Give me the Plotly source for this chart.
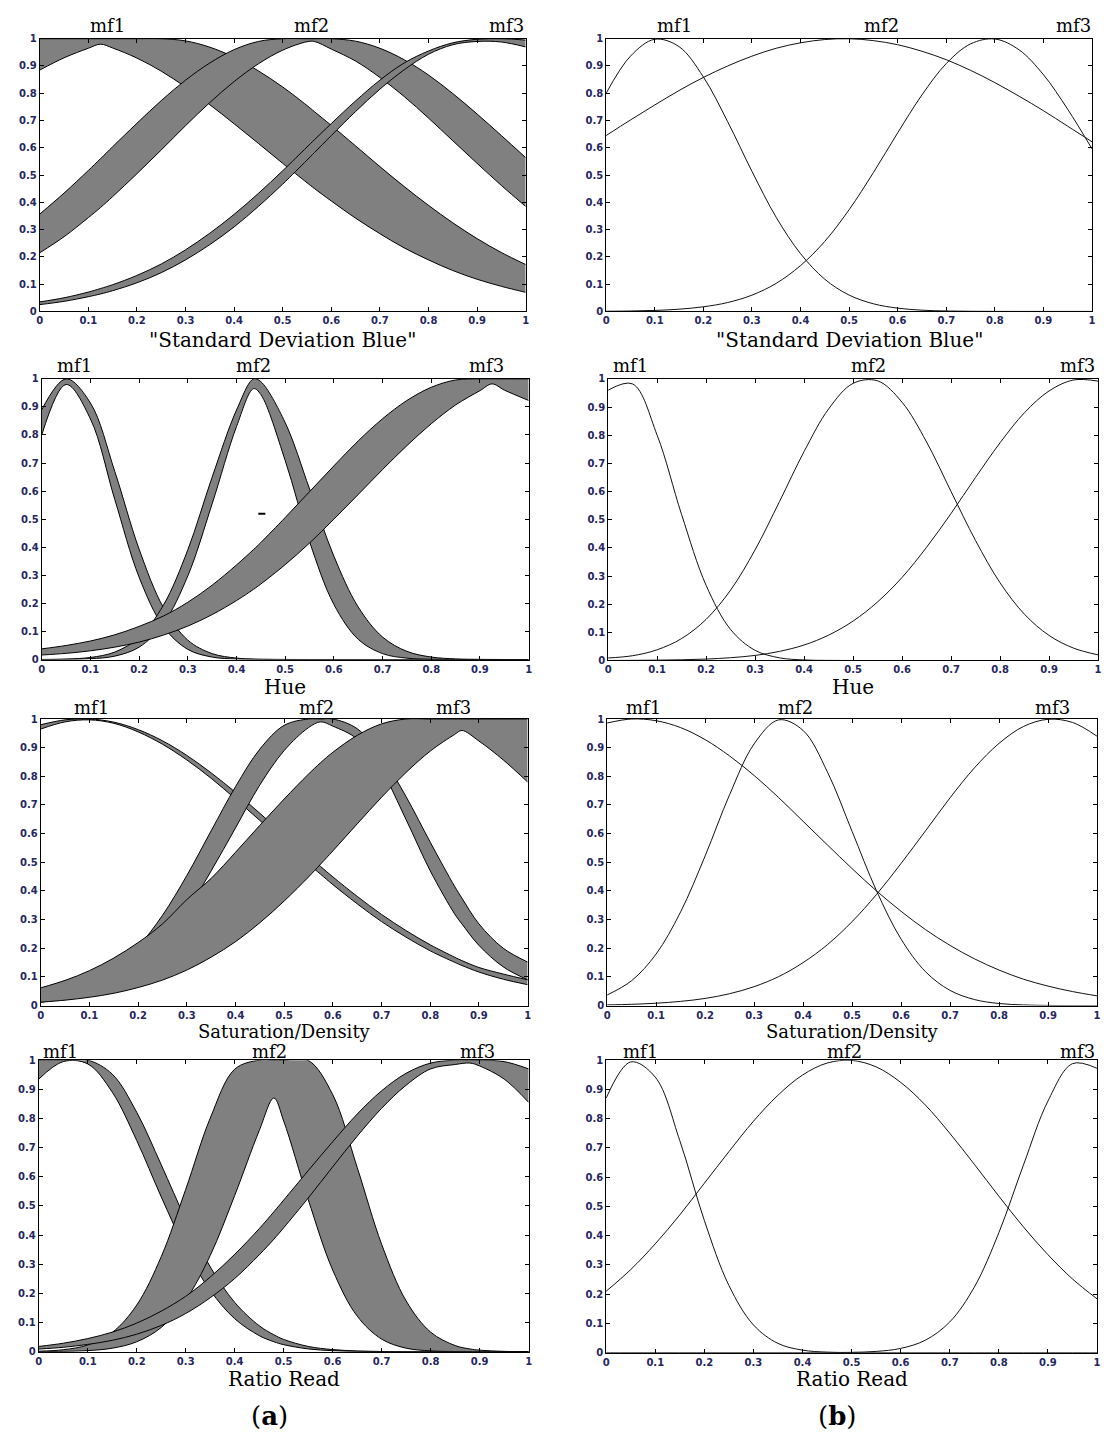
import plotly.graph_objects as go

W, H = 1104, 1439

# ---------------- axis ticks / labels ----------------
tick_vals = [0, 0.1, 0.2, 0.3, 0.4, 0.5, 0.6, 0.7, 0.8, 0.9, 1]
tick_text = ["0", "0.1", "0.2", "0.3", "0.4", "0.5", "0.6", "0.7", "0.8", "0.9", "1"]
mf_names = ["mf1", "mf2", "mf3"]
x_titles = ['"Standard Deviation Blue"', "Hue", "Saturation/Density", "Ratio Read"]
captions = ["a", "b"]

# ---------------- (a) interval type-2 membership functions ----------------
x_sdb_a = [0.0, 0.05, 0.1, 0.125, 0.15, 0.2, 0.25, 0.3, 0.35, 0.4, 0.45, 0.5, 0.55, 0.565,
           0.6, 0.65, 0.7, 0.75, 0.8, 0.85, 0.9, 0.95, 1.0]
sdb_a_mf1_upper = [1, 1, 1, 1, 1, 1, 1, .992, .969, .932, .882, .823, .755, .733, .682, .607,
                   .531, .458, .389, .325, .267, .216, .172]
sdb_a_mf1_lower = [.885, .93, .965, .98, .966, .929, .881, .823, .758, .688, .616, .543, .472,
                   .451, .405, .342, .285, .233, .189, .15, .118, .092, .07]
sdb_a_mf2_upper = [.357, .434, .517, .56, .604, .69, .773, .848, .911, .96, .99, 1, 1, 1, 1,
                   .991, .965, .923, .867, .799, .724, .645, .564]
sdb_a_mf2_lower = [.215, .274, .344, .381, .421, .505, .592, .681, .766, .843, .908, .958, .989,
                   .99, .962, .918, .858, .788, .709, .626, .543, .462, .385]
sdb_a_mf3_upper = [.035, .05, .071, .084, .098, .132, .174, .226, .287, .356, .433, .516, .603,
                   .629, .689, .772, .848, .911, .955, .985, .998, 1, .995]
sdb_a_mf3_lower = [.025, .037, .054, .064, .076, .105, .142, .189, .245, .31, .385, .467, .555,
                   .582, .645, .733, .815, .886, .943, .978, .99, .988, .97]

x_hue_a = [0.0, 0.05, 0.1, 0.15, 0.2, 0.25, 0.3, 0.35, 0.4, 0.435, 0.45, 0.5, 0.55, 0.6, 0.65,
           0.7, 0.75, 0.8, 0.85, 0.9, 0.925, 0.95, 1.0]
hue_a_mf1_upper = [.89, 1, .914, .67, .393, .185, .069, .021, .005, .0016, .001, .0002, 0, 0, 0,
                   0, 0, 0, 0, 0, 0, 0, 0]
hue_a_mf1_lower = [.80, .98, .857, .57, .293, .117, .036, .0087, .0016, .0005, .0003, 0, 0, 0, 0,
                   0, 0, 0, 0, 0, 0, 0, 0]
hue_a_mf2_upper = [.0003, .0016, .0073, .0265, .079, .194, .391, .65, .889, 1, .99, .844, .608,
                   .368, .187, .08, .029, .0088, .0022, .0005, .0002, 0, 0]
hue_a_mf2_lower = [0, .0005, .0027, .012, .044, .128, .298, .555, .83, .965, .944, .709, .42,
                   .196, .072, .021, .0048, .0009, 0, 0, 0, 0, 0]
hue_a_mf3_upper = [.038, .05, .066, .088, .118, .155, .204, .265, .337, .392, .417, .506, .598,
                   .69, .779, .858, .923, .97, .996, 1, 1, 1, 1]
hue_a_mf3_lower = [.016, .022, .031, .044, .062, .087, .119, .16, .21, .25, .269, .338, .415,
                   .50, .588, .677, .762, .84, .907, .958, .982, .96, .923]
# small stray mark visible in the Hue (a) panel
hue_a_mark_x = [0.452]
hue_a_mark_y = [0.519]

x_sat_a = [0.0, 0.05, 0.1, 0.15, 0.2, 0.25, 0.3, 0.35, 0.4, 0.45, 0.5, 0.55, 0.575, 0.6, 0.65,
           0.7, 0.75, 0.8, 0.85, 0.865, 0.9, 0.95, 1.0]
sat_a_mf1_upper = [.98, .997, 1, .989, .963, .924, .873, .812, .744, .671, .596, .521, .485,
                   .449, .381, .318, .262, .212, .169, .157, .133, .11, .09]
sat_a_mf1_lower = [.965, .99, .997, .985, .955, .912, .857, .793, .721, .646, .57, .494, .458,
                   .422, .355, .293, .239, .191, .151, .14, .117, .092, .073]
sat_a_mf2_upper = [.018, .037, .07, .124, .205, .315, .454, .61, .764, .895, .978, 1, 1, 1,
                   .966, .869, .73, .57, .416, .375, .285, .20, .152]
sat_a_mf2_lower = [.012, .024, .045, .08, .14, .22, .33, .47, .62, .77, .89, .97, .99, .975,
                   .93, .82, .65, .47, .32, .285, .21, .135, .09]
sat_a_mf3_upper = [.062, .088, .122, .166, .22, .285, .37, .444, .535, .629, .721, .808, .848,
                   .884, .943, .983, 1, 1, 1, 1, 1, 1, 1]
sat_a_mf3_lower = [.012, .019, .029, .043, .063, .089, .124, .169, .223, .289, .365, .449, .494,
                   .54, .634, .727, .813, .888, .946, .96, .923, .857, .78]

x_rr_a = [0.0, 0.05, 0.1, 0.15, 0.2, 0.25, 0.3, 0.35, 0.4, 0.45, 0.48, 0.5, 0.55, 0.6, 0.65,
          0.7, 0.75, 0.8, 0.85, 0.88, 0.9, 0.95, 1.0]
rr_a_mf1_upper = [1, 1, 1, .952, .821, .641, .454, .291, .169, .089, .058, .042, .018, .0072,
                  .0025, .0008, .0002, 0, 0, 0, 0, 0, 0]
rr_a_mf1_lower = [.935, .995, .987, .89, .724, .531, .351, .21, .113, .055, .034, .024, .0095,
                  .0034, .0011, .0003, 0, 0, 0, 0, 0, 0, 0]
rr_a_mf2_upper = [.0017, .0068, .023, .066, .16, .326, .557, .801, .969, 1, 1, 1, .999, .882,
                  .632, .368, .174, .067, .021, .0094, .0053, .0011, .0002]
rr_a_mf2_lower = [.0002, .001, .0037, .012, .034, .083, .177, .33, .536, .758, .87, .791, .522,
                  .28, .122, .043, .012, .0029, .0005, .0002, 0, 0, 0]
rr_a_mf3_upper = [.018, .029, .045, .067, .098, .139, .19, .256, .334, .422, .48, .52, .621,
                  .72, .815, .895, .955, .99, 1, 1, 1, .995, .97]
rr_a_mf3_lower = [.009, .015, .025, .039, .06, .09, .131, .185, .251, .332, .386, .425, .527,
                  .634, .739, .835, .914, .97, .985, .99, .98, .935, .855]

# ---------------- (b) type-1 membership functions ----------------
x_type1 = [0.0, 0.05, 0.1, 0.15, 0.2, 0.25, 0.3, 0.35, 0.4, 0.45, 0.5, 0.55, 0.6, 0.65, 0.7,
           0.75, 0.8, 0.85, 0.9, 0.95, 1.0]
sdb_b_mf1 = [.80, .936, .998, .971, .86, .696, .514, .345, .212, .118, .06, .028, .012, .0046,
             .0016, .0005, .0001, 0, 0, 0, 0]
sdb_b_mf2 = [.645, .702, .757, .81, .858, .9, .936, .965, .985, .997, 1.0, .993, .978, .954,
             .923, .884, .839, .789, .736, .679, .622]
sdb_b_mf3 = [.0007, .0016, .0037, .0082, .017, .0326, .0597, .103, .168, .257, .373, .509, .655,
             .794, .909, .981, .999, .959, .868, .741, .596]

hue_b_mf1 = [.96, .982, .80, .518, .267, .11, .036, .0094, .0019, .0003, 0, 0, 0, 0, 0, 0, 0,
             0, 0, 0, 0]
hue_b_mf2 = [.009, .017, .038, .078, .146, .25, .393, .565, .742, .893, .984, .993, .917, .776,
             .60, .426, .276, .164, .089, .044, .02]
hue_b_mf3 = [.0002, .0005, .0012, .0025, .0051, .0099, .018, .0325, .055, .09, .14, .208, .295,
             .402, .522, .65, .773, .88, .957, .996, .992]

sat_b_mf1 = [.986, 1.0, .994, .97, .928, .871, .803, .726, .643, .56, .478, .40, .329, .265,
             .21, .163, .124, .092, .068, .049, .034]
sat_b_mf2 = [.037, .087, .18, .327, .522, .736, .913, .997, .96, .814, .608, .40, .232, .118,
             .053, .021, .0073, .0023, .0006, .0001, 0]
sat_b_mf3 = [.0024, .0045, .0083, .0147, .025, .0415, .066, .101, .15, .213, .293, .388, .496,
             .61, .725, .83, .915, .974, .999, .988, .94]

rr_b_mf1 = [.87, .994, .942, .725, .452, .23, .095, .0317, .0086, .0019, .0003, 0, 0, 0, 0, 0,
            0, 0, 0, 0, 0]
rr_b_mf2 = [.21, .284, .372, .471, .579, .687, .791, .88, .949, .99, .999, .977, .924, .847,
            .75, .644, .535, .43, .335, .252, .184]
rr_b_mf3 = [0, 0, 0, 0, 0, 0, 0, 0, 0, .0002, .0011, .0043, .0146, .0424, .105, .224, .41, .641,
            .86, .988, .972]

# mf label positions (data x) for each panel
label_x_sdb_a = [0.14, 0.56, 0.96]
label_x_hue_a = [0.067, 0.435, 0.914]
label_x_sat_a = [0.104, 0.567, 0.847]
label_x_rr_a = [0.045, 0.471, 0.895]
label_x_sdb_b = [0.14, 0.566, 0.962]
label_x_hue_b = [0.045, 0.532, 0.958]
label_x_sat_b = [0.075, 0.384, 0.91]
label_x_rr_b = [0.07, 0.485, 0.96]

# ---------------- layout geometry (pixels: left, right, top, bottom) ----------------
boxes_a = [(37, 526, 33, 308), (39, 529, 376, 659), (38, 528, 719, 1008), (36, 529, 1063, 1357)]
boxes_b = [(607, 1096, 33, 308), (609, 1102, 376, 660), (608, 1101, 719, 1008), (607, 1101, 1063, 1358)]
title_y_px = [337, 687, 1034, 1385]
title_size = [20, 20, 18, 20]
label_yshift = [2, 2, 0, -3]
caption_pos_px = [(268, 1422), (840, 1422)]

panels_a = [
    (x_sdb_a, [(sdb_a_mf1_lower, sdb_a_mf1_upper), (sdb_a_mf2_lower, sdb_a_mf2_upper),
               (sdb_a_mf3_lower, sdb_a_mf3_upper)], label_x_sdb_a),
    (x_hue_a, [(hue_a_mf1_lower, hue_a_mf1_upper), (hue_a_mf2_lower, hue_a_mf2_upper),
               (hue_a_mf3_lower, hue_a_mf3_upper)], label_x_hue_a),
    (x_sat_a, [(sat_a_mf1_lower, sat_a_mf1_upper), (sat_a_mf2_lower, sat_a_mf2_upper),
               (sat_a_mf3_lower, sat_a_mf3_upper)], label_x_sat_a),
    (x_rr_a, [(rr_a_mf1_lower, rr_a_mf1_upper), (rr_a_mf2_lower, rr_a_mf2_upper),
              (rr_a_mf3_lower, rr_a_mf3_upper)], label_x_rr_a),
]
panels_b = [
    ([sdb_b_mf1, sdb_b_mf2, sdb_b_mf3], label_x_sdb_b),
    ([hue_b_mf1, hue_b_mf2, hue_b_mf3], label_x_hue_b),
    ([sat_b_mf1, sat_b_mf2, sat_b_mf3], label_x_sat_b),
    ([rr_b_mf1, rr_b_mf2, rr_b_mf3], label_x_rr_b),
]

fig = go.Figure()
layout_axes = {}
annotations = []
line_style = dict(color="black", width=1, shape="spline", smoothing=1.0)
serif = "DejaVu Serif"


def ax_names(n):
    s = "" if n == 1 else str(n)
    return "x" + s, "y" + s, "xaxis" + s, "yaxis" + s


def setup_axes(n, box):
    x0, x1, y0, y1 = box
    xr, yr, xa, ya = ax_names(n)
    common = dict(range=[0, 1], tickmode="array", tickvals=tick_vals, ticktext=tick_text,
                  ticks="inside", ticklen=4, tickwidth=1, tickcolor="black",
                  showline=True, linecolor="black", linewidth=1, mirror="ticks",
                  showgrid=False, zeroline=False, fixedrange=True,
                  tickfont=dict(family="DejaVu Sans", size=10, color="#262660", weight="bold"))
    layout_axes[xa] = dict(domain=[x0 / W, x1 / W], anchor=yr, **common)
    layout_axes[ya] = dict(domain=[1 - y1 / H, 1 - y0 / H], anchor=xr, **common)
    return xr, yr


def add_labels(xr, yr, label_x, row):
    for name, lx in zip(mf_names, label_x):
        annotations.append(dict(x=lx, y=1, xref=xr, yref=yr, text=name, showarrow=False,
                                xanchor="center", yanchor="bottom", yshift=label_yshift[row],
                                borderpad=0,
                                font=dict(family=serif, size=18, color="black")))


def add_title(box, row):
    x0, x1, y0, y1 = box
    annotations.append(dict(x=(x0 + x1) / 2 / W, y=1 - title_y_px[row] / H, xref="paper",
                            yref="paper", text=x_titles[row], showarrow=False,
                            xanchor="center", yanchor="middle", borderpad=0,
                            font=dict(family=serif, size=title_size[row], color="black")))


n = 1
for row in range(4):
    # column (a): interval type-2 bands
    xr, yr = setup_axes(n, boxes_a[row])
    xs, bands, label_x = panels_a[row]
    for lower, upper in bands:
        fig.add_trace(go.Scatter(x=xs, y=lower, mode="lines", line=line_style,
                                 xaxis=xr, yaxis=yr, hoverinfo="skip"))
        fig.add_trace(go.Scatter(x=xs, y=upper, mode="lines", line=line_style,
                                 fill="tonexty", fillcolor="#808080",
                                 xaxis=xr, yaxis=yr, hoverinfo="skip"))
    if row == 1:
        fig.add_trace(go.Scatter(x=hue_a_mark_x, y=hue_a_mark_y, mode="markers",
                                 marker=dict(symbol="line-ew", size=5,
                                             line=dict(color="black", width=2)),
                                 xaxis=xr, yaxis=yr, hoverinfo="skip"))
    add_labels(xr, yr, label_x, row)
    add_title(boxes_a[row], row)
    n += 1

    # column (b): type-1 curves
    xr, yr = setup_axes(n, boxes_b[row])
    curves, label_x = panels_b[row]
    for ys in curves:
        fig.add_trace(go.Scatter(x=x_type1, y=ys, mode="lines",
                                 line=dict(color="#111111", width=1, shape="spline", smoothing=1.0),
                                 xaxis=xr, yaxis=yr, hoverinfo="skip"))
    add_labels(xr, yr, label_x, row)
    add_title(boxes_b[row], row)
    n += 1

for cap, (cx, cy) in zip(captions, caption_pos_px):
    annotations.append(dict(x=cx / W, y=1 - cy / H, xref="paper", yref="paper",
                            text="(<b>" + cap + "</b>)", showarrow=False,
                            xanchor="center", yanchor="middle",
                            font=dict(family=serif, size=26, color="black")))

fig.update_layout(width=W, height=H, margin=dict(l=0, r=0, t=0, b=0),
                  paper_bgcolor="white", plot_bgcolor="white", showlegend=False,
                  annotations=annotations, **layout_axes)

fig.write_html("out.html", config={"displayModeBar": False},
               post_script="document.body.style.margin='0px';document.body.style.overflow='hidden';")
